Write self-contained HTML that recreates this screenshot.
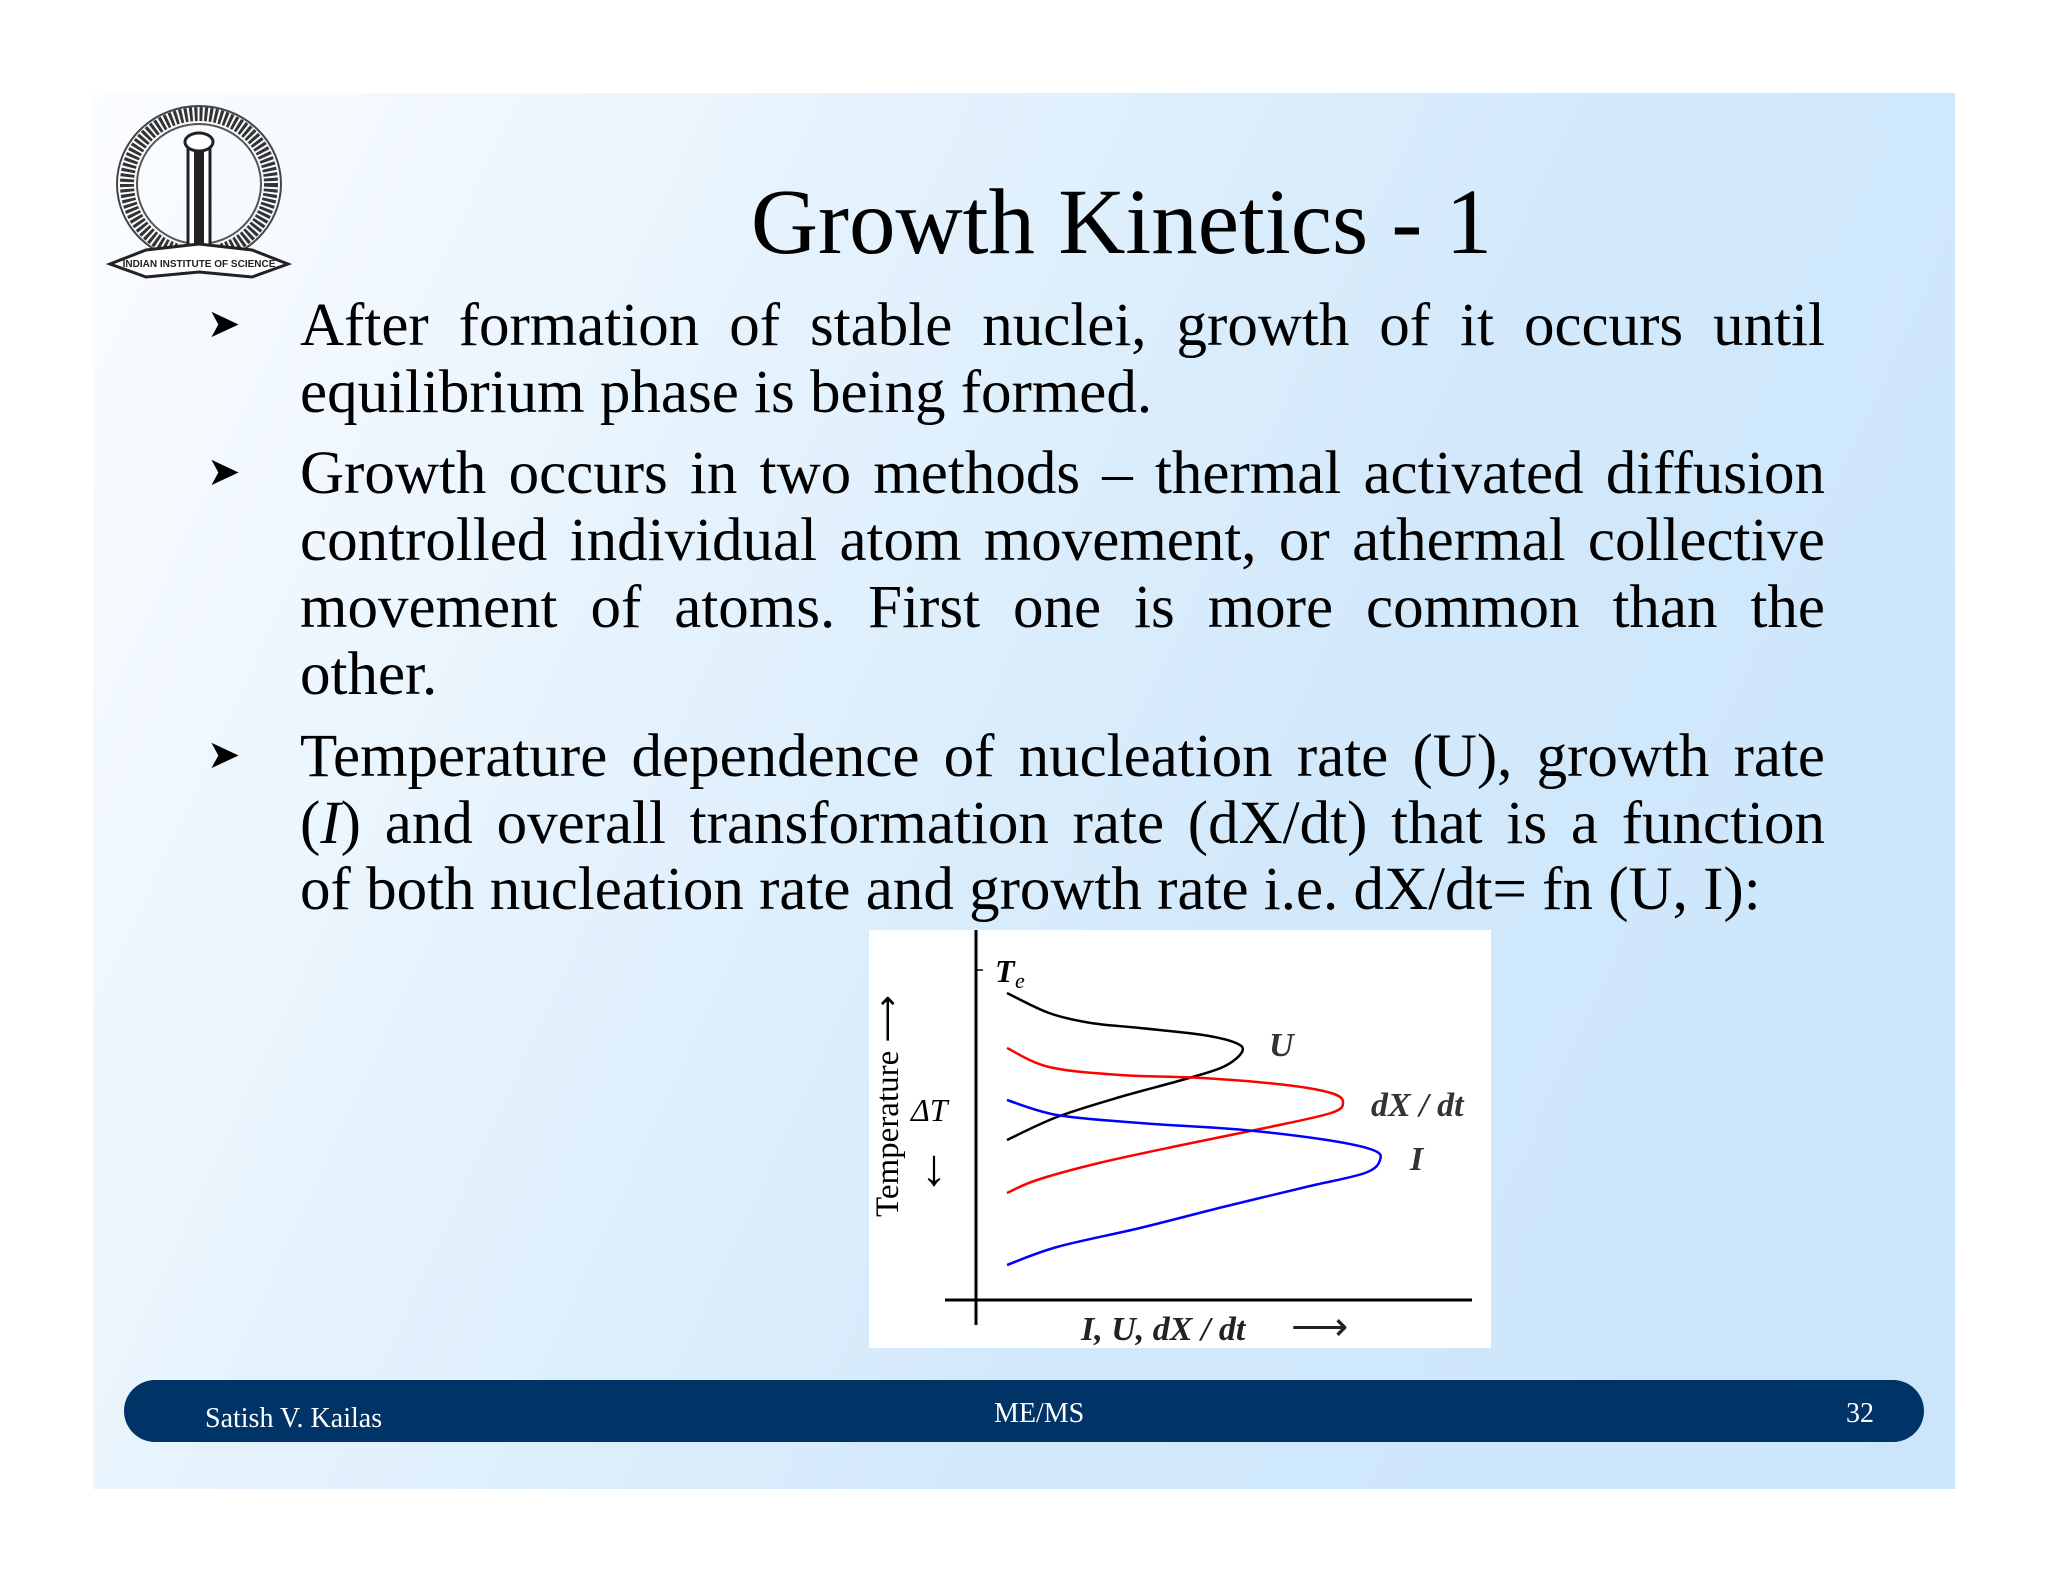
<!DOCTYPE html>
<html><head><meta charset="utf-8"><style>
html,body{margin:0;padding:0;background:#fff;}
body{width:2048px;height:1582px;position:relative;overflow:hidden;font-family:"Liberation Serif",serif;}
#slide{position:absolute;left:93px;top:93px;width:1862px;height:1396px;background:linear-gradient(115deg,#fbfdff 0%,#e6f3fd 30%,#d3e9fb 60%,#cbe5fb 100%);}
#title{position:absolute;left:0;width:2048px;top:168px;text-align:center;font-size:93px;line-height:110px;color:#000;padding-left:195px;box-sizing:border-box;}
.line{position:absolute;left:300px;width:1525px;font-size:61px;line-height:67px;color:#000;text-align:justify;text-align-last:justify;white-space:nowrap;}
.line.last{text-align-last:left;}
.bul{position:absolute;left:207px;font-size:40px;color:#000;}
#footer{position:absolute;left:124px;top:1380px;width:1800px;height:62px;background:#003366;border-radius:31px;color:#fff;font-size:28px;}
#footer span{position:absolute;top:15px;}
#chart{position:absolute;left:869px;top:930px;width:622px;height:418px;background:#fff;}
</style></head><body>
<div id="slide"></div>
<svg style="position:absolute;left:106px;top:102px" width="186" height="182" viewBox="0 0 186 182">
 <ellipse cx="93" cy="82" rx="72" ry="70" fill="none" stroke="#333" stroke-width="14" stroke-dasharray="3 2"/>
 <ellipse cx="93" cy="82" rx="62" ry="60" fill="none" stroke="#555" stroke-width="2"/>
 <ellipse cx="93" cy="82" rx="82" ry="78" fill="none" stroke="#444" stroke-width="2"/>
 <rect x="82" y="40" width="22" height="110" fill="#fff" stroke="#222" stroke-width="3"/>
 <rect x="88" y="45" width="10" height="100" fill="#222"/>
 <ellipse cx="93" cy="40" rx="14" ry="9" fill="#fff" stroke="#222" stroke-width="3"/>
 <path d="M4 162 L40 148 L93 142 L146 148 L182 162 L146 175 L93 170 L40 175 Z" fill="#fff" stroke="#222" stroke-width="3"/>
 <text x="93" y="165" text-anchor="middle" font-size="10" font-family="Liberation Sans,sans-serif" font-weight="bold" fill="#222">INDIAN INSTITUTE OF SCIENCE</text>
</svg>
<div id="title">Growth Kinetics - 1</div>

<div class="bul" style="top:300px">&#10148;</div>
<div class="line" style="top:292px">After formation of stable nuclei, growth of it occurs until</div>
<div class="line last" style="top:359px">equilibrium phase is being formed.</div>

<div class="bul" style="top:448px">&#10148;</div>
<div class="line" style="top:440px">Growth occurs in two methods – thermal activated diffusion</div>
<div class="line" style="top:507px">controlled individual atom movement, or athermal collective</div>
<div class="line" style="top:574px">movement of atoms. First one is more common than the</div>
<div class="line last" style="top:641px">other.</div>

<div class="bul" style="top:731px">&#10148;</div>
<div class="line" style="top:723px">Temperature dependence of nucleation rate (U), growth rate</div>
<div class="line" style="top:790px">(<i>I</i>) and overall transformation rate (dX/dt) that is a function</div>
<div class="line last" style="top:856px">of both nucleation rate and growth rate i.e. dX/dt= fn (U, I):</div>

<div id="chart">
<svg id="svg" width="622" height="418" xmlns="http://www.w3.org/2000/svg"></svg>
</div>

<div id="footer">
 <span style="left:81px;top:23px">Satish V. Kailas</span>
 <span style="left:870px;top:18px">ME/MS</span>
 <span style="right:50px;top:18px">32</span>
</div>

<script>
const uRate = [31,73,115,164,227,260,266,247,206,144,81,31];
const uTemp = [307,287,277,272,265,257,248,233,220,203,183,160];
const dxRate = [31,73,144,227,310,355,367,355,289,206,123,61,31];
const dxTemp = [252,233,225,222,215,207,198,187,172,155,137,120,107];
const iRate = [31,81,164,268,351,397,404,389,330,247,164,81,31];
const iTemp = [200,185,177,170,160,150,140,127,113,93,72,53,35];
const teTemp = [330];

const NS = "http://www.w3.org/2000/svg";
const svg = document.getElementById('svg');
const X0 = 107, Y0 = 370;
function sx(v){ return X0 + v; }
function sy(t){ return Y0 - t; }
function mk(tag, attrs){ const e = document.createElementNS(NS, tag); for (const k in attrs) e.setAttribute(k, attrs[k]); svg.appendChild(e); return e; }

let ya = mk('line',{x1:X0,y1:0,x2:X0,y2:395,stroke:'#000','stroke-width':3});


let xa = mk('line',{x1:76,y1:Y0,x2:603,y2:Y0,stroke:'#000','stroke-width':3});


let tk = mk('line',{x1:X0,y1:sy(teTemp[0]),x2:X0+7,y2:sy(teTemp[0]),stroke:'#000','stroke-width':1.5});



function curve(rates, temps, color, name){
  const pts = rates.map((r,i)=>[sx(r),sy(temps[i])]);
  let d = 'M'+pts[0][0]+' '+pts[0][1];
  for (let i=1;i<pts.length;i++){
    const p0 = pts[Math.max(0,i-2)], p1 = pts[i-1], p2 = pts[i], p3 = pts[Math.min(pts.length-1,i+1)];
    const c1x = p1[0]+(p2[0]-p0[0])/6, c1y = p1[1]+(p2[1]-p0[1])/6;
    const c2x = p2[0]-(p3[0]-p1[0])/6, c2y = p2[1]-(p3[1]-p1[1])/6;
    d += ' C'+c1x+' '+c1y+' '+c2x+' '+c2y+' '+p2[0]+' '+p2[1];
  }
  const p = mk('path',{d:d,fill:'none',stroke:color,'stroke-width':2.5});
  
  
}
curve(uRate,uTemp,'#000','curve-u');
curve(dxRate,dxTemp,'#f00','curve-dxdt');
curve(iRate,iTemp,'#00f','curve-i');

function txt(x,y,s,attrs,name){
  const t = mk('text',Object.assign({x:x,y:y,'font-family':'Liberation Serif, serif','font-size':32,'font-style':'italic','font-weight':'bold',fill:'#000'},attrs||{}));
  t.textContent = s;
  
  
  return t;
}
txt(126, sy(teTemp[0])+12, 'T', {}, 'te-label');
txt(146, sy(teTemp[0])+18, 'e', {'font-size':22,'font-weight':'normal'}, 'te-subscript');
txt(400, 126, 'U', {'fill':'#333','font-size':34}, 'label-u');
txt(502, 186, 'dX / dt', {'fill':'#333','font-size':34}, 'label-dxdt');
txt(541, 240, 'I', {'fill':'#333','font-size':34}, 'label-i');
txt(42, 191, 'ΔT', {'font-weight':'normal','font-size':32}, 'delta-t-label');
txt(52, 255, '↓', {'font-style':'normal','font-weight':'normal','font-size':52}, 'delta-t-arrow');
txt(212, 410, 'I, U, dX / dt', {'fill':'#222','font-size':34}, 'x-axis-title');
txt(422, 410, '⟶', {'fill':'#222','font-size':40,'font-style':'normal','font-weight':'normal'}, 'x-axis-arrow');
txt(0, 0, 'Temperature ⟶', {'font-style':'normal','font-weight':'normal','font-size':33,'transform':'translate(29,287) rotate(-90)'}, 'y-axis-title');
</script>
</body></html>
